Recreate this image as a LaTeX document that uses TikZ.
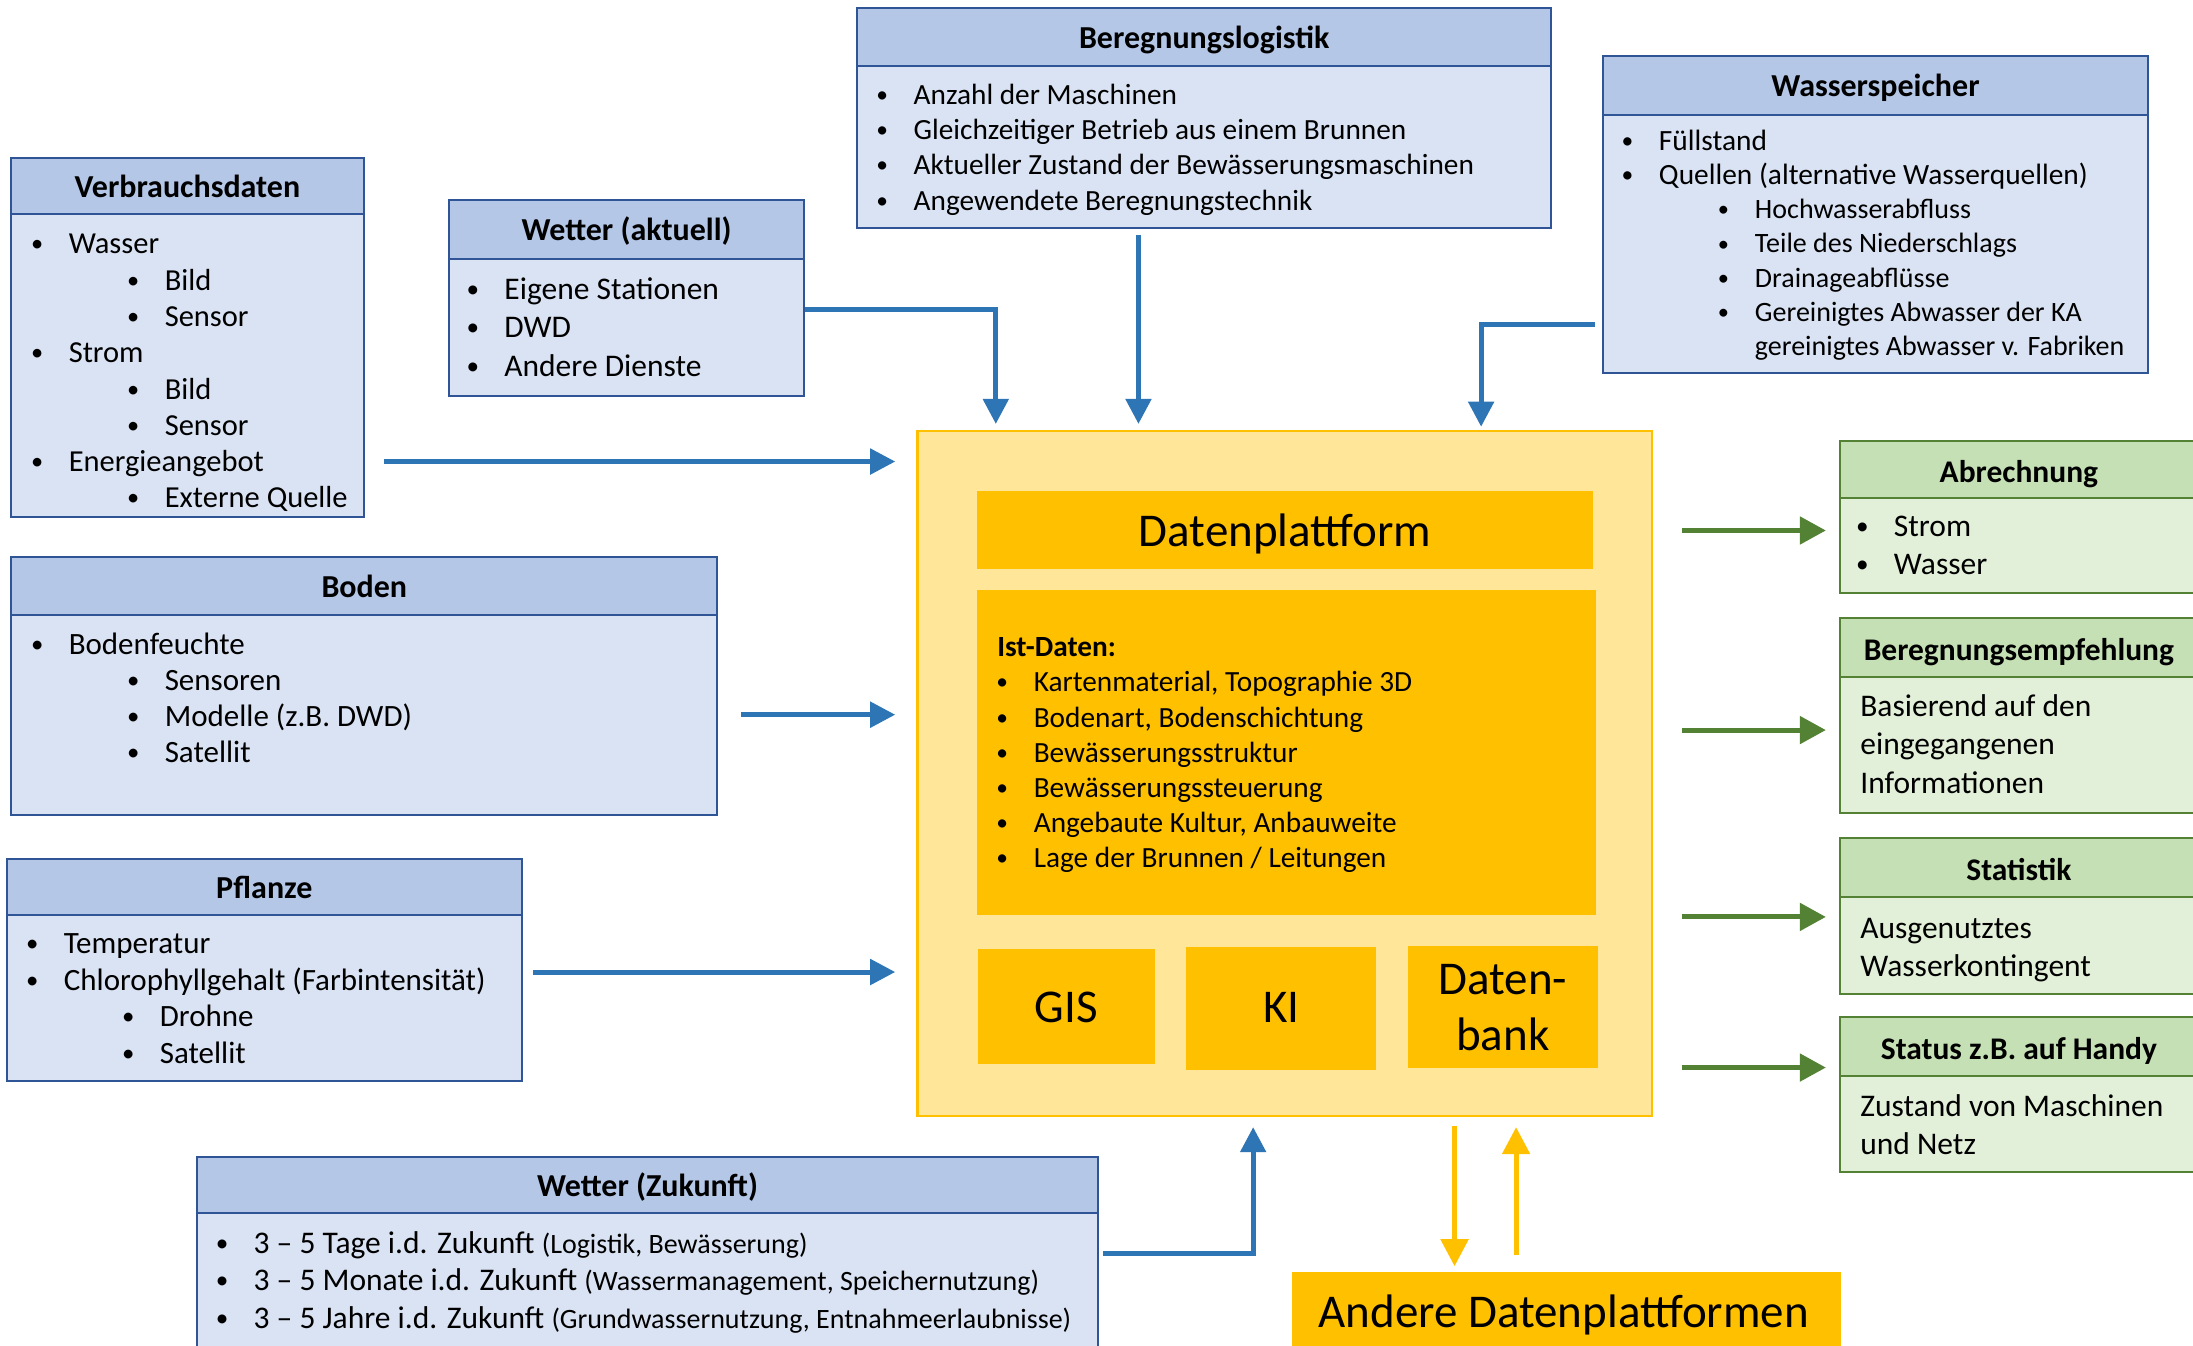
\documentclass[tikz,border=0pt]{standalone}
\usepackage{fontspec}
\setmainfont{Carlito}
\usetikzlibrary{arrows.meta,fit}
\definecolor{hblue}{HTML}{B4C7E7}
\definecolor{bblue}{HTML}{DAE3F3}
\definecolor{lblue}{HTML}{2F5597}
\definecolor{ablue}{HTML}{2E75B6}
\definecolor{hgreen}{HTML}{C5E0B4}
\definecolor{bgreen}{HTML}{E2F0D9}
\definecolor{lgreen}{HTML}{548235}
\definecolor{gold}{HTML}{FFC000}
\definecolor{lgold}{HTML}{FFE699}
\newlength\bgap \setlength\bgap{31.5pt}
\newlength\bsub \setlength\bsub{96pt}
\newcommand\fsz[2]{\fontsize{#1}{#2}\selectfont}
\newcommand\bdot{\makebox[0pt]{\raisebox{0.065em}{\scalebox{0.8}{•}}}}
\newcommand\ia[1]{\bdot\hspace*{\bgap}#1}
\newcommand\ib[1]{\hspace*{\bsub}\bdot\hspace*{\bgap}#1}
\newcommand\blist[3]{\parbox[t]{1000pt}{\fsz{#1}{#2}#3}}
\begin{document}
\begin{tikzpicture}[x=1.3986pt,y=-1.3986pt,
  bbody/.style={draw=lblue,fill=bblue,line width=2pt,inner sep=0pt},
  bhead/.style={draw=lblue,fill=hblue,line width=2pt,inner sep=0pt},
  gbody/.style={draw=lgreen,fill=bgreen,line width=2pt,inner sep=0pt},
  ghead/.style={draw=lgreen,fill=hgreen,line width=2pt,inner sep=0pt},
  htitle/.style={anchor=base,inner sep=0pt,font=\bfseries\fsz{32}{38}},
  gtitle/.style={anchor=base,inner sep=0pt,font=\bfseries\fsz{31.5}{38}},
  outerbox/.style={draw=gold,fill=lgold,line width=2.5pt,inner sep=0pt},
  goldbox/.style={fill=gold,inner sep=0pt},
  bigtxt/.style={anchor=base,inner sep=0pt,font=\fsz{47}{56}},
  txt/.style={inner sep=0pt,anchor=base west},
  barrow/.style={draw=ablue,line width=5pt,-{Triangle[length=25pt,width=25pt]}},
  garrow/.style={draw=lgreen,line width=5pt,-{Triangle[length=26pt,width=27pt]}},
  yarrow/.style={draw=gold,line width=5pt,-{Triangle[length=27pt,width=27pt]}}]
\useasboundingbox[fill=white] (0,0) rectangle (1568,962);

% ---------- blue input boxes ----------
\node[bbody,fit={(8,113) (260,370)}] (verb) {};
\node[bhead,fit={(8,113) (260,153)}] (verbH) {};
\node[htitle] (verbL) at (134,141.2) {Verbrauchsdaten};
\node[txt] (verbT) at (26.5,181.5) {\blist{30.5}{36.3}{\ia{Wasser}\\\ib{Bild}\\\ib{Sensor}\\\ia{Strom}\\\ib{Bild}\\\ib{Sensor}\\\ia{Energieangebot}\\\ib{Externe Quelle}}};

\node[bbody,fit={(321,143) (575,283)}] (weta) {};
\node[bhead,fit={(321,143) (575,185)}] (wetaH) {};
\node[htitle] (wetaL) at (448,172.2) {Wetter (aktuell)};
\node[txt] (wetaT) at (338,214) {\blist{31.5}{38.5}{\ia{Eigene Stationen}\\\ia{DWD}\\\ia{Andere Dienste}}};

\node[bbody,fit={(613,6) (1109,163)}] (ber) {};
\node[bhead,fit={(613,6) (1109,47)}] (berH) {};
\node[htitle] (berL) at (861,34.7) {Beregnungslogistik};
\node[txt] (berT) at (630.6,74.4) {\blist{29.3}{35.4}{\ia{Anzahl der Maschinen}\\\ia{Gleichzeitiger Betrieb aus einem Brunnen}\\\ia{Aktueller Zustand der Bewässerungsmaschinen}\\\ia{Angewendete Beregnungstechnik}}};

\node[bbody,fit={(1146,40) (1536,267)}] (was) {};
\node[bhead,fit={(1146,40) (1536,82)}] (wasH) {};
\node[htitle] (wasL) at (1341,69.2) {Wasserspeicher};
\node[txt] (wasT) at (1163.5,107.5) {\blist{29.4}{34.2}{\ia{Füllstand}\\\ia{Quellen (alternative Wasserquellen)}\\{\fsz{28}{34.2}\ib{Hochwasserabfluss}}\\{\fsz{28}{34.2}\ib{Teile des Niederschlags}}\\{\fsz{28}{34.2}\ib{Drainageabflüsse}}\\{\fsz{28}{34.2}\ib{Gereinigtes Abwasser der KA}}\\{\fsz{28}{34.2}\hspace*{\bsub}\hspace*{\bgap}gereinigtes Abwasser v. Fabriken}}};

\node[bbody,fit={(8,398) (513,583)}] (boden) {};
\node[bhead,fit={(8,398) (513,440)}] (bodenH) {};
\node[htitle] (bodenL) at (260.5,427.2) {Boden};
\node[txt] (bodenT) at (26.5,468.3) {\blist{31}{35.8}{\ia{Bodenfeuchte}\\\ib{Sensoren}\\\ib{Modelle (z.B. DWD)}\\\ib{Satellit}}};

\node[bbody,fit={(5,614) (373,773)}] (pfl) {};
\node[bhead,fit={(5,614) (373,654)}] (pflH) {};
\node[htitle] (pflL) at (189,642.2) {Pflanze};
\node[txt] (pflT) at (23,682) {\blist{31}{36.5}{\ia{Temperatur}\\\ia{Chlorophyllgehalt (Farbintensität)}\\\ib{Drohne}\\\ib{Satellit}}};

\node[bbody,fit={(141,827) (785,975)}] (wz) {};
\node[bhead,fit={(141,827) (785,867)}] (wzH) {};
\node[htitle] (wzL) at (463,855.2) {Wetter (Zukunft)};
\node[txt] (wzT) at (158.7,896) {\blist{31.5}{37.5}{\ia{3 – 5 Tage i.d. Zukunft {\fsz{28}{37.5}(Logistik, Bewässerung)}}\\\ia{3 – 5 Monate i.d. Zukunft {\fsz{28}{37.5}(Wassermanagement, Speichernutzung)}}\\\ia{3 – 5 Jahre i.d. Zukunft {\fsz{28}{37.5}(Grundwassernutzung, Entnahmeerlaubnisse)}}}};

% ---------- central platform ----------
\node[outerbox,fit={(656,308) (1181,798)}] (plat) {};
\node[goldbox,fit={(698.6,351.4) (1139,406.6)}] (dp) {};
\node[bigtxt] (dpL) at (918.8,390.4) {Datenplattform};
\node[goldbox,fit={(698.6,422) (1141,654)}] (ist) {};
\node[txt] (istT) at (716.5,469.5) {\blist{29.3}{35.2}{\hspace*{-5pt}\textbf{Ist-Daten:}\\\ia{Kartenmaterial, Topographie 3D}\\\ia{Bodenart, Bodenschichtung}\\\ia{Bewässerungsstruktur}\\\ia{Bewässerungssteuerung}\\\ia{Angebaute Kultur, Anbauweite}\\\ia{Lage der Brunnen / Leitungen}}};
\node[goldbox,fit={(699,678.5) (825.6,761)}] (gis) {};
\node[bigtxt] (gisL) at (762.3,731) {GIS};
\node[goldbox,fit={(848,677) (984,764.8)}] (ki) {};
\node[bigtxt] (kiL) at (916,731) {KI};
\node[goldbox,fit={(1006.7,676.5) (1142.6,763.9)}] (db) {};
\node[anchor=base,inner sep=0pt] (dbL) at (1074.6,711) {\parbox[t]{200pt}{\centering\fsz{47}{56}Daten-\\bank}};

\node[goldbox,fit={(924,909.5) (1316,975)}] (andere) {};
\node[bigtxt] (andereL) at (1118,949) {Andere Datenplattformen};

% ---------- green output boxes ----------
\node[gbody,fit={(1315.5,315) (1572,424)}] (abr) {};
\node[ghead,fit={(1315.5,315) (1572,356)}] (abrH) {};
\node[gtitle] (abrL) at (1443.5,345) {Abrechnung};
\node[txt] (abrT) at (1331.5,383.7) {\blist{31.5}{38.3}{\ia{Strom}\\\ia{Wasser}}};

\node[gbody,fit={(1315.5,442) (1572,581)}] (bem) {};
\node[ghead,fit={(1315.5,442) (1572,484)}] (bemH) {};
\node[gtitle] (bemL) at (1443.5,472.5) {Beregnungsempfehlung};
\node[txt] (bemT) at (1330,512.4) {\blist{31.5}{38.3}{Basierend auf den\\eingegangenen\\Informationen}};

\node[gbody,fit={(1315.5,599) (1572,711)}] (stat) {};
\node[ghead,fit={(1315.5,599) (1572,641)}] (statH) {};
\node[gtitle] (statL) at (1443.5,629.5) {Statistik};
\node[txt] (statT) at (1330,671) {\blist{31.5}{38.3}{Ausgenutztes\\Wasserkontingent}};

\node[gbody,fit={(1315.5,727) (1572,838)}] (status) {};
\node[ghead,fit={(1315.5,727) (1572,769)}] (statusH) {};
\node[gtitle] (statusL) at (1443.5,757.5) {Status z.B. auf Handy};
\node[txt] (statusT) at (1330,798) {\blist{31.5}{38.3}{Zustand von Maschinen\\und Netz}};

% ---------- connectors ----------
\draw[barrow,shorten <=19.6pt,shorten >=21pt] (verb.east |- 0,330) -- (plat.west |- 0,330);
\draw[barrow,shorten <=22.4pt,shorten >=21pt] (boden.east |- 0,511) -- (plat.west |- 0,511);
\draw[barrow,shorten <=10.5pt,shorten >=21pt] (pfl.east |- 0,695) -- (plat.west |- 0,695);
\draw[barrow,shorten >=5.6pt] (weta.east |- 0,221) -| (712,0 |- plat.north);
\draw[barrow,shorten <=5.6pt,shorten >=5.6pt] (814,0 |- ber.south) -- (814,0 |- plat.north);
\draw[barrow,shorten <=7pt,shorten >=2.8pt] (was.west |- 0,232) -| (1059,0 |- plat.north);
\draw[barrow,shorten <=4pt,shorten >=9.8pt] (wz.east |- 0,896) -| (896,0 |- plat.south);
\draw[yarrow,shorten <=9pt,shorten >=5.6pt] (1040,0 |- plat.south) -- (1040,0 |- andere.north);
\draw[yarrow,shorten <=17.3pt,shorten >=9.8pt] (1084,0 |- andere.north) -- (1084,0 |- plat.south);
\draw[garrow,shorten <=28.7pt,shorten >=13pt] (plat.east |- 0,379.3) -- (abr.west |- 0,379.3);
\draw[garrow,shorten <=28.7pt,shorten >=13pt] (plat.east |- 0,522) -- (bem.west |- 0,522);
\draw[garrow,shorten <=28.7pt,shorten >=13pt] (plat.east |- 0,655.6) -- (stat.west |- 0,655.6);
\draw[garrow,shorten <=28.7pt,shorten >=13pt] (plat.east |- 0,763.3) -- (status.west |- 0,763.3);
\end{tikzpicture}
\end{document}
